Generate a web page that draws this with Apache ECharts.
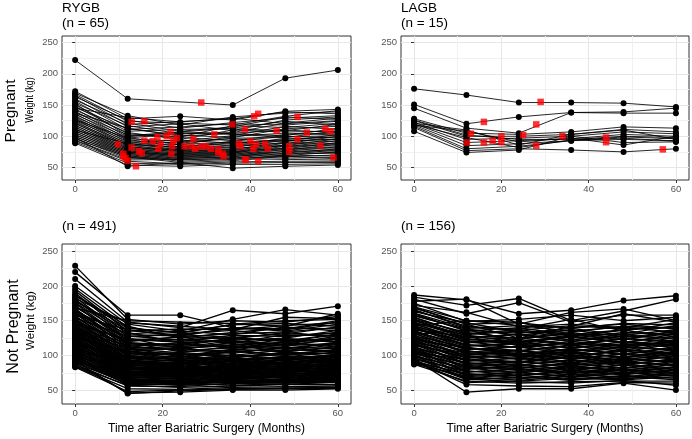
<!DOCTYPE html>
<html>
<head>
<meta charset="utf-8">
<script src="https://cdn.jsdelivr.net/npm/echarts@6/dist/echarts.min.js"></script>
<style>
html,body{margin:0;padding:0;background:#fff;}
#chart{width:692px;height:439px;}
</style>
</head>
<body>
<div id="chart"></div>
<script>
// ---------- data ----------
const months = [0, 12, 24, 36, 48, 60];
const xTicks = [0, 20, 40, 60];
const xMinor = [10, 30, 50];
const yTicks = [50, 100, 150, 200, 250];
const yMinor = [75, 125, 175, 225];
const panelTitles = ['RYGB\n(n = 65)', 'LAGB\n(n = 15)', '(n = 491)', '(n = 156)'];
const rowLabels = ['Pregnant', 'Not Pregnant'];
const yTitle = 'Weight (kg)';
const xTitle = 'Time after Bariatric Surgery (Months)';

// weights (kg) at months 0,12,24,36,48,60 ; null = not measured
const rygbPregnant = [
 [222,160,null,150,193,206],
 [172,128,132,126,140,143],
 [169,133,118,131,137,139],
 [167,124,121,118,132,141],
 [165,119,null,128,139,136],
 [163,126,113,122,129,133],
 [160,115,120,109,126,131],
 [158,121,108,115,131,127],
 [156,111,115,120,118,124],
 [153,117,104,106,121,129],
 [150,108,111,112,109,119],
 [148,104,99,117,114,121],
 [146,112,102,98,112,116],
 [144,99,107,104,101,113],
 [142,106,95,110,107,108],
 [140,96,92,101,116,111],
 [138,102,98,93,103,105],
 [136,93,89,97,98,109],
 [135,98,86,100,105,102],
 [133,90,94,89,95,99],
 [131,95,83,92,100,97],
 [130,87,91,96,92,103],
 [128,92,80,85,97,94],
 [127,85,87,91,88,100],
 [125,89,78,82,94,91],
 [124,82,84,88,85,96],
 [122,86,76,79,91,88],
 [121,80,81,86,83,93],
 [120,84,74,77,89,86],
 [118,78,79,83,80,90],
 [117,81,72,75,86,84],
 [115,76,77,80,78,87],
 [114,79,70,73,84,81],
 [112,74,75,78,76,83],
 [111,77,68,71,81,79],
 [109,72,73,76,73,80],
 [108,75,66,69,79,76],
 [106,70,71,74,71,78],
 [105,73,64,67,76,74],
 [103,68,69,72,69,75],
 [102,71,62,65,73,72],
 [100,66,67,70,67,70],
 [99,69,60,63,70,68],
 [97,64,65,67,65,66],
 [96,67,58,61,68,64],
 [94,62,63,64,63,62],
 [93,60,56,59,60,60],
 [91,57,55,57,58,58],
 [89,54,52,55,55,56],
 [98,52,58,49,52,54],
 [145,130,123,129,120,125],
 [152,101,null,113,124,118],
 [137,113,100,null,110,106],
 [126,97,105,103,99,101],
 [110,88,82,90,null,95]
];
// pregnancy events: [month, weight]
const rygbPregEvents = [
 [28.8,154],[12.9,123],[15.8,124],[9.8,87],[12.9,82],[11,72],[11.5,65],[12,61],[11,68],[13.9,52],
 [14.6,76],[15.2,73],[15.8,93],[17.7,92],[18.8,99],[19,80],[19.5,88],[20.9,100],[21.8,107],[22.1,84],
 [22,72],[22.4,93],[23.2,97],[25,84],[26.6,84],[27,96],[27.4,80],[28.8,84],[29.8,84],[31,80],
 [31.8,103],[32.7,74],[33.9,68],[35.9,119],[37.4,88],[37.8,84],[38.8,111],[39,62],[40,92],[40.7,80],
 [41.3,87],[40.9,132],[41.8,136],[41.8,60],[43.4,88],[44,80],[46,109],[48.9,84],[48.9,75],[50.8,131],
 [50.8,95],[52.9,106],[56,85],[57.1,112],[58.3,108],[59,66],[33.7,72],[32.7,79],[38.8,63]
];

const lagbPregnant = [
 [176,166,154,154,153,147],
 [151,120,131,138,139,145],
 [145,113,105,138,137,137],
 [128,105,103,107,115,113],
 [125,100,100,103,111,107],
 [122,95,97,100,107,104],
 [120,90,93,96,103,100],
 [118,85,88,93,99,96],
 [116,80,84,93,95,93],
 [114,77,80,78,75,80],
 [108,74,78,100,90,91],
 [118,108,91,97,86,100],
 [121,110,86,103,110,95],
 [126,102,95,95,100,98],
 [119,98,82,94,97,92]
];
const lagbPregEvents = [
 [29,155],[16,123],[28,119],[13,104],[12.1,90],[16,90],[18,93],[20,100],[20,90.5],[25,102],
 [28,85],[34,100],[44,98],[44,90.5],[57,79]
];

const rygbNotPregnant = [
 [229,152,145,150,148,156],
 [220,158,158,140,138,150],
 [210,148,140,165,160,171],
 [200,145,135,152,166,158],
 [196,140,132,145,150,152],
 [193,135,138,137,143,147],
 [190,130,128,140,135,145],
 [187,142,125,133,140,138],
 [184,127,130,126,131,141],
 [181,124,120,129,127,133],
 [178,133,118,122,125,136],
 [175,121,123,118,130,128],
 [172,118,114,124,121,131],
 [170,125,110,115,119,124],
 [167,115,116,112,124,120],
 [165,112,108,119,113,126],
 [162,119,105,108,117,115],
 [160,108,111,114,109,118],
 [157,105,101,104,112,110],
 [155,111,98,109,105,113],
 [152,102,104,100,108,106],
 [150,99,95,106,101,109],
 [148,104,92,97,104,102],
 [146,96,99,94,98,105],
 [143,93,89,101,95,99],
 [141,100,94,91,99,96],
 [139,90,86,96,92,101],
 [137,95,91,88,94,93],
 [135,87,83,93,89,97],
 [133,92,88,85,91,90],
 [131,84,80,89,86,94],
 [129,89,85,82,88,87],
 [127,81,78,86,83,91],
 [125,86,82,80,85,84],
 [123,78,75,83,80,88],
 [121,83,79,77,82,81],
 [119,76,73,80,78,85],
 [117,80,76,75,79,78],
 [115,73,70,78,75,82],
 [113,77,74,72,77,76],
 [111,71,68,75,72,79],
 [109,74,71,70,74,73],
 [107,69,66,73,70,76],
 [105,72,69,67,71,71],
 [103,66,64,70,68,73],
 [101,69,66,65,69,68],
 [99,64,62,68,65,70],
 [97,66,63,63,66,66],
 [95,62,60,65,63,67],
 [93,63,61,61,64,63],
 [91,59,58,63,61,64],
 [89,60,57,59,61,61],
 [87,56,55,60,58,62],
 [85,57,54,56,58,58],
 [84,52,51,54,55,56],
 [83,48,50,52,53,54],
 [88,46,47,50,50,52],
 [92,45,49,51,52,53],
 [182,147,142,137,155,153],
 [168,150,null,146,142,160],
 [158,137,127,131,134,140],
 [145,123,119,121,116,128],
 [136,114,107,111,114,117],
 [126,106,102,99,103,107],
 [116,98,96,94,97,100],
 [106,91,87,89,90,93],
 [98,82,81,84,81,86],
 [90,75,72,73,76,77],
 [176,128,122,126,120,130],
 [171,122,126,118,124,119],
 [166,117,112,121,115,123],
 [161,113,118,110,119,112],
 [156,109,104,113,107,116],
 [153,106,110,103,112,104],
 [149,103,97,107,100,108],
 [147,100,103,96,105,98],
 [144,97,94,100,93,102],
 [142,95,99,92,97,94],
 [140,93,87,95,90,98],
 [138,91,93,87,95,89],
 [136,89,84,91,86,92],
 [134,88,90,84,89,85],
 [132,86,81,88,83,89],
 [130,85,87,81,86,82],
 [128,83,79,85,80,86],
 [126,82,84,78,83,79],
 [124,80,76,82,78,83],
 [122,79,82,76,81,77],
 [120,77,73,79,75,80],
 [118,76,79,73,78,74],
 [116,74,71,77,72,78],
 [114,73,76,71,75,72],
 [112,71,69,74,70,75],
 [110,70,73,68,72,69],
 [108,68,66,71,67,72],
 [106,67,70,66,69,66],
 [104,65,63,68,64,69],
 [102,64,67,63,66,64],
 [100,62,61,65,62,66],
 [98,61,64,60,63,61],
 [96,59,58,62,60,63],
 [94,58,60,57,59,58],
 [186,139,133,144,146,142],
 [179,136,129,139,137,148],
 [163,131,135,130,141,135],
 [154,127,131,136,128,132],
 [149,120,127,124,133,127],
 [139,118,116,125,121,124],
 [134,110,113,117,110,119],
 [128,104,100,108,106,111],
 [119,96,92,98,101,104],
 [111,87,89,92,88,95],
 [103,81,77,83,85,88]
];

const lagbNotPregnant = [
 [187,180,160,165,179,186],
 [184,172,182,150,164,181],
 [181,160,176,148,158,158],
 [178,181,145,162,167,150],
 [175,149,152,158,150,155],
 [172,162,141,145,140,152],
 [169,145,147,139,146,144],
 [166,140,138,152,135,147],
 [163,147,133,134,142,139],
 [160,135,140,129,131,143],
 [157,138,129,137,126,134],
 [155,130,135,125,133,130],
 [152,133,124,131,122,136],
 [150,126,130,120,128,125],
 [147,129,119,127,118,131],
 [145,122,126,115,124,121],
 [142,124,115,123,114,126],
 [140,118,121,110,120,116],
 [138,120,111,118,110,122],
 [135,113,117,106,116,112],
 [133,116,106,114,105,117],
 [131,109,112,102,112,107],
 [128,112,102,109,101,113],
 [126,105,108,98,108,103],
 [124,107,98,105,97,109],
 [121,100,104,94,103,99],
 [119,103,94,101,93,104],
 [117,96,100,90,99,95],
 [115,98,90,97,89,100],
 [112,92,96,86,95,90],
 [110,94,86,93,85,96],
 [108,88,92,82,91,86],
 [106,90,82,89,82,92],
 [104,84,88,78,87,82],
 [102,86,78,85,78,88],
 [100,80,84,75,83,78],
 [98,82,75,81,75,84],
 [96,76,80,72,79,74],
 [94,78,71,77,72,80],
 [92,72,76,68,75,70],
 [90,74,68,73,69,76],
 [89,68,72,65,71,67],
 [88,70,64,70,66,72],
 [87,63,60,62,63,63],
 [92,58,56,55,61,60],
 [95,47,52,52,60,50],
 [100,66,62,60,64,57],
 [168,145,125,142,160,148],
 [143,150,148,130,137,141],
 [130,137,120,128,119,115],
 [114,101,107,95,109,102],
 [103,95,89,99,88,93],
 [122,111,101,106,96,105],
 [137,127,114,117,113,120],
 [170,150,143,140,145,138],
 [165,142,136,143,138,141],
 [161,139,143,135,141,133],
 [158,136,132,139,129,137],
 [154,131,137,128,136,127],
 [151,128,125,133,124,132],
 [148,125,131,122,130,123],
 [146,121,118,126,119,128],
 [143,119,123,116,125,118],
 [141,115,112,120,113,121],
 [139,114,118,111,117,114],
 [136,110,107,115,108,118],
 [134,108,113,105,113,108],
 [132,104,101,110,102,111],
 [129,103,107,100,106,101],
 [127,99,96,104,98,106],
 [125,97,101,95,102,96],
 [123,93,91,99,92,99],
 [120,92,96,89,96,91],
 [118,88,86,94,87,95],
 [116,87,91,85,92,85],
 [113,83,81,88,81,90],
 [111,81,86,80,86,80],
 [109,77,76,84,77,83],
 [107,76,81,74,80,76],
 [105,72,71,79,73,79],
 [101,71,75,70,76,71],
 [97,67,66,73,68,74],
 [93,65,69,64,70,65],
 [91,61,63,67,65,69]
];

// ---------- layout ----------
const panels = [
 {lines: rygbPregnant, events: rygbPregEvents, lw: 0.85, grid: {left:62, top:36, width:289, height:144}},
 {lines: lagbPregnant, events: lagbPregEvents, lw: 0.85, grid: {left:401, top:36, width:288, height:144}},
 {lines: rygbNotPregnant, events: [], lw: 1.35, grid: {left:62, top:244, width:289, height:160}},
 {lines: lagbNotPregnant, events: [], lw: 1.35, grid: {left:401, top:244, width:288, height:160}}
];
const X_MIN = -3, X_MAX = 63, Y_MIN = 30, Y_MAX = 260.5;
const GRID_MAJOR = '#e6e6e6', GRID_MINOR = '#f1f1f1', BORDER = '#333333', TICK_TXT = '#555555';
const FONT = 'Liberation Sans, Arial, sans-serif';

const grid = [], xAxis = [], yAxis = [], series = [];
panels.forEach((p, g) => {
  grid.push(Object.assign({show:true, borderColor:BORDER, borderWidth:1, backgroundColor:'#fff', containLabel:false}, p.grid));
  xAxis.push({gridIndex:g, type:'value', min:X_MIN, max:X_MAX, position:'bottom',
    axisLine:{show:false},
    axisTick:{show:true, length:3, lineStyle:{color:BORDER}, customValues:xTicks},
    axisLabel:{customValues:xTicks, color:TICK_TXT, fontSize:9.5, margin:4, fontFamily:FONT},
    splitLine:{show:true, lineStyle:{color:GRID_MAJOR, width:1}}});
  xAxis.push({gridIndex:g, type:'value', min:X_MIN, max:X_MAX, position:'bottom',
    axisLine:{show:false},
    axisTick:{show:false, customValues:xMinor},
    axisLabel:{show:false, customValues:xMinor},
    splitLine:{show:true, lineStyle:{color:GRID_MINOR, width:1}}});
  yAxis.push({gridIndex:g, type:'value', min:Y_MIN, max:Y_MAX, position:'left',
    axisLine:{show:false},
    axisTick:{show:true, length:3, lineStyle:{color:BORDER}, customValues:yTicks},
    axisLabel:{customValues:yTicks, color:TICK_TXT, fontSize:9.5, margin:4, fontFamily:FONT},
    splitLine:{show:true, lineStyle:{color:GRID_MAJOR, width:1}}});
  yAxis.push({gridIndex:g, type:'value', min:Y_MIN, max:Y_MAX, position:'left',
    axisLine:{show:false},
    axisTick:{show:false, customValues:yMinor},
    axisLabel:{show:false, customValues:yMinor},
    splitLine:{show:true, lineStyle:{color:GRID_MINOR, width:1}}});

  p.lines.forEach(vals => {
    const data = [];
    vals.forEach((v, i) => { if (v !== null) data.push([months[i], v]); });
    series.push({type:'line', xAxisIndex:2*g, yAxisIndex:2*g, data:data,
      symbol:'circle', symbolSize:6, silent:true, z:2,
      lineStyle:{color:'#000', width:p.lw}, itemStyle:{color:'#000'}});
  });
  if (p.events.length) {
    series.push({type:'scatter', xAxisIndex:2*g, yAxisIndex:2*g, data:p.events,
      symbol:'rect', symbolSize:6.5, silent:true, z:4, itemStyle:{color:'#ff0000'}});
  }
});

const title = panels.map((p, g) => ({
  text: panelTitles[g], left: p.grid.left, top: g < 2 ? 1 : 219, padding: 0,
  textStyle: {fontSize: 13.5, lineHeight: 15, color: '#000', fontWeight: 'normal', fontFamily: FONT}
}));

const graphic = [
  {type:'text', x:10.5, y:111, rotation:Math.PI/2,
   style:{text:rowLabels[0], font:'15.5px ' + FONT, fill:'#000', textAlign:'center', textVerticalAlign:'middle'}},
  {type:'text', x:13.5, y:326.5, rotation:Math.PI/2,
   style:{text:rowLabels[1], font:'16px ' + FONT, fill:'#000', textAlign:'center', textVerticalAlign:'middle'}},
  {type:'text', x:30.5, y:100, rotation:Math.PI/2, scaleX:0.85,
   style:{text:yTitle, font:'10.5px ' + FONT, fill:'#000', textAlign:'center', textVerticalAlign:'middle'}},
  {type:'text', x:31, y:320.5, rotation:Math.PI/2, scaleX:1.1,
   style:{text:yTitle, font:'10.5px ' + FONT, fill:'#000', textAlign:'center', textVerticalAlign:'middle'}},
  {type:'text', x:206.5, y:429,
   style:{text:xTitle, font:'12px ' + FONT, fill:'#000', textAlign:'center', textVerticalAlign:'middle'}},
  {type:'text', x:545, y:429,
   style:{text:xTitle, font:'12px ' + FONT, fill:'#000', textAlign:'center', textVerticalAlign:'middle'}}
];

const chart = echarts.init(document.getElementById('chart'), null, {renderer:'canvas'});
chart.setOption({animation:false, backgroundColor:'#fff', title, grid, xAxis, yAxis, series, graphic});
</script>
</body>
</html>
